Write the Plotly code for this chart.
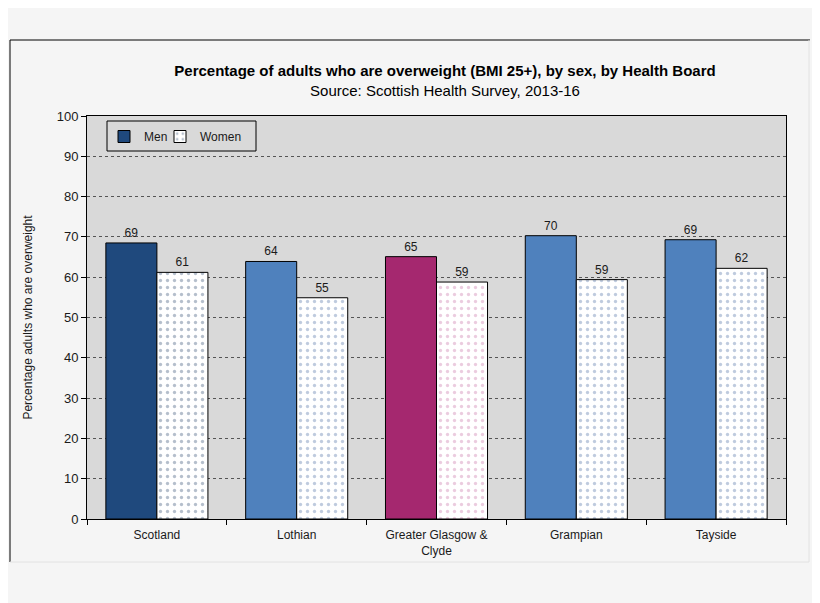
"""Bar chart of adults who are overweight, by sex and Health Board."""

import plotly.graph_objects as go

# Data
boards = ['Scotland', 'Lothian', 'Greater Glasgow &<br>Clyde', 'Grampian', 'Tayside']
men_values = [68.5, 63.9, 65.1, 70.3, 69.3]
women_values = [61.2, 54.9, 58.8, 59.4, 62.2]
men_labels = ['69', '64', '65', '70', '69']
women_labels = ['61', '55', '59', '59', '62']

men_colours = ['#1f497d', '#4f81bd', '#a5286f', '#4f81bd', '#4f81bd']
dot_colours = ['#6b7f99', '#7f98bd', '#d79ac0', '#7f98bd', '#7f98bd']

FONT = 'Liberation Sans, Arial, sans-serif'
W, H = 820, 603
# the page body adds an 8px margin, so the figure is drawn 8px in
OFF = 8
L, R, T, B = 87 - OFF, 42, 116 - OFF, 92
PW, PH = W - L - R, H - T - B


def px_x(px):
  return (px - OFF - L) / PW


def px_y(py):
  return (H - B - (py - OFF)) / PH


fig = go.Figure()

fig.add_trace(go.Bar(
    name='Men',
    x=boards,
    y=men_values,
    text=men_labels,
    textposition='outside',
    textfont=dict(size=12, color='#1a1a1a'),
    cliponaxis=False,
    marker=dict(color=men_colours, line=dict(color='#000000', width=1)),
    showlegend=True,
    legend='legend',
))

fig.add_trace(go.Bar(
    name='Women',
    x=boards,
    y=women_values,
    text=women_labels,
    textposition='outside',
    textfont=dict(size=12, color='#1a1a1a'),
    cliponaxis=False,
    marker=dict(
        color='#ffffff',
        line=dict(color='#000000', width=1),
        pattern=dict(shape='.', fgcolor=dot_colours, bgcolor='#ffffff',
                     size=7, solidity=0.18)),
    showlegend=True,
    legend='legend2',
))

# Outer frame around the chart
frame = [
    (10, 40, 10, 562, '#000000'),
    (10, 40, 810, 40, '#000000'),
    (809, 40, 809, 562, '#e2e2e2'),
    (10, 562, 809, 562, '#e2e2e2'),
]
for x0, y0, x1, y1, colour in frame:
  fig.add_shape(type='line', xref='paper', yref='paper',
                x0=px_x(x0), y0=px_y(y0), x1=px_x(x1), y1=px_y(y1),
                line=dict(color=colour, width=1))

# Box behind the legend
fig.add_shape(type='rect', xref='paper', yref='paper',
              x0=px_x(107), y0=px_y(151), x1=px_x(256), y1=px_y(121),
              fillcolor='#d9d9d9', line=dict(color='#000000', width=1),
              layer='below')

legend_style = dict(
    orientation='h', xanchor='left', yanchor='top',
    bgcolor='rgba(0,0,0,0)', borderwidth=0,
    font=dict(size=12, family=FONT, color='#1a1a1a'), itemwidth=30)

fig.update_layout(
    width=W,
    height=H,
    margin=dict(l=L, r=R, t=T, b=B),
    paper_bgcolor='#f5f5f5',
    plot_bgcolor='#d9d9d9',
    font=dict(family=FONT, size=12, color='#1a1a1a'),
    barmode='group',
    bargap=0.27,
    bargroupgap=0,
    showlegend=True,
    title=dict(
        text='<b>Percentage of adults who are overweight (BMI 25+), by sex, '
             'by Health Board</b><br>Source: Scottish Health Survey, 2013-16',
        x=(445 - OFF) / W, xanchor='center', y=1 - 68 / H, yanchor='top',
        font=dict(size=15, family=FONT, color='#000000')),
    legend=dict(x=px_x(104), y=px_y(122), **legend_style),
    legend2=dict(x=px_x(160), y=px_y(122), **legend_style),
    xaxis=dict(
        showline=True, linecolor='#000000', mirror=True,
        ticks='outside', tickson='boundaries', ticklen=5, tickcolor='#000000',
        tickfont=dict(size=12), ticklabelstandoff=5, showgrid=False),
    yaxis=dict(
        range=[0, 100], dtick=10,
        showline=True, linecolor='#000000', mirror=True,
        ticks='outside', ticklen=5, tickcolor='#000000',
        tickfont=dict(size=13),
        showgrid=True, gridcolor='#555555', griddash='dot', gridwidth=1,
        zeroline=False,
        title=dict(text='Percentage adults who are overweight',
                   font=dict(size=12), standoff=21)),
)

fig.write_html('out.html')
